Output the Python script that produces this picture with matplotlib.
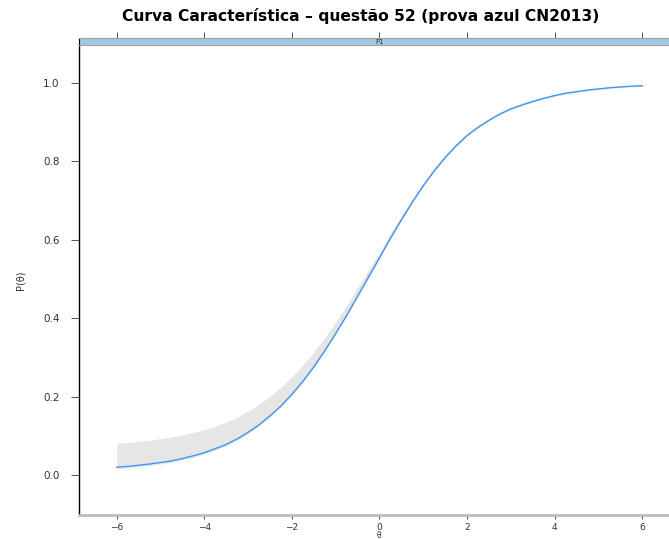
import matplotlib
matplotlib.use("Agg")
import matplotlib.pyplot as plt

# Data
theta = [-6, -5.75, -5.5, -5.25, -5, -4.75, -4.5, -4.25, -4, -3.75, -3.5, -3.25,
         -3, -2.75, -2.5, -2.25, -2, -1.75, -1.5, -1.25, -1, -0.75, -0.5, -0.25,
         0, 0.25, 0.5, 0.75, 1, 1.25, 1.5, 1.75, 2, 2.25, 2.5, 2.75, 3, 3.25,
         3.5, 3.75, 4, 4.25, 4.5, 4.75, 5, 5.25, 5.5, 5.75, 6]
prob = [0.020, 0.022, 0.025, 0.028, 0.032, 0.036, 0.042, 0.049, 0.057, 0.067,
        0.078, 0.092, 0.109, 0.128, 0.151, 0.176, 0.206, 0.239, 0.276, 0.317,
        0.361, 0.407, 0.456, 0.505, 0.554, 0.604, 0.651, 0.696, 0.738, 0.776,
        0.810, 0.840, 0.866, 0.887, 0.905, 0.921, 0.934, 0.944, 0.953, 0.961,
        0.968, 0.974, 0.978, 0.982, 0.985, 0.988, 0.990, 0.992, 0.993]
upper = [0.081, 0.083, 0.086, 0.089, 0.093, 0.097, 0.102, 0.109, 0.116, 0.125,
         0.135, 0.148, 0.163, 0.180, 0.201, 0.224, 0.251, 0.281, 0.314, 0.351,
         0.391, 0.433, 0.478, 0.524, 0.569, 0.617, 0.662, 0.706, 0.746, 0.783,
         0.816, 0.846, 0.871, 0.892, 0.909, 0.925, 0.938, 0.948, 0.956, 0.964,
         0.971, 0.977, 0.980, 0.984, 0.987, 0.990, 0.992, 0.994, 0.995]
lower = [0.016, 0.018, 0.021, 0.024, 0.028, 0.032, 0.038, 0.045, 0.053, 0.063,
         0.074, 0.088, 0.105, 0.125, 0.148, 0.173, 0.203, 0.236, 0.273, 0.314,
         0.358, 0.404, 0.453, 0.502, 0.551, 0.602, 0.649, 0.694, 0.736, 0.774,
         0.808, 0.838, 0.864, 0.885, 0.903, 0.919, 0.932, 0.942, 0.951, 0.959,
         0.966, 0.972, 0.976, 0.980, 0.983, 0.986, 0.988, 0.990, 0.991]
xticks = [-6, -4, -2, 0, 2, 4, 6]
yticks = [0.0, 0.2, 0.4, 0.6, 0.8, 1.0]
ytick_labels = ["0.0", "0.2", "0.4", "0.6", "0.8", "1.0"]
title = "Curva Característica – questão 52 (prova azul CN2013)"
strip_label = "P1"

W, H = 669, 539
fig = plt.figure(figsize=(W / 100, H / 100), dpi=100)

def fx(px):
    return px / W

def fy(py):
    return 1 - py / H

# main panel
left, right, top, bottom = 79, 680, 45, 515
ax = fig.add_axes([fx(left), fy(bottom), fx(right - left), (bottom - top) / H])
ax.fill_between(theta, lower, upper, color="#e6e6e6", linewidth=0)
ax.plot(theta, prob, color="#3d97f5", linewidth=1.0)
ax.set_xlim(-6.86, 6.86)
ax.set_ylim(-0.102, 1.097)
ax.set_xticks(xticks)
ax.set_xticklabels([("−" if v < 0 else "") + str(abs(v)) for v in xticks])
ax.set_yticks(yticks)
ax.set_yticklabels(ytick_labels)
ax.tick_params(axis="both", direction="out", colors="#333333", width=0.6)
ax.tick_params(axis="y", length=6, pad=8, labelsize=7.5)
ax.tick_params(axis="x", length=3, pad=3, labelsize=6.5)
ax.spines["top"].set_visible(False)
ax.spines["right"].set_visible(False)
ax.spines["left"].set_color("black")
ax.spines["left"].set_linewidth(1.0)
ax.spines["bottom"].set_color("#bdbdbd")
ax.spines["bottom"].set_linewidth(2.0)

# strip
s_top, s_bot = 38, 45
sax = fig.add_axes([fx(left), fy(s_bot), fx(right - left), (s_bot - s_top) / H])
sax.set_facecolor("#9ecae1")
sax.set_xlim(ax.get_xlim())
sax.set_ylim(0, 1)
sax.set_yticks([])
sax.set_xticks(xticks)
sax.xaxis.set_ticks_position("top")
sax.tick_params(axis="x", direction="out", length=4, width=0.6,
                colors="#333333", labeltop=False, labelbottom=False)
for name, sp in sax.spines.items():
    sp.set_color("#a0a0a0")
    sp.set_linewidth(0.8)
sax.spines["left"].set_color("black")
sax.text(0, 0.5, strip_label, ha="center", va="center", fontsize=5,
         color="#333333")

# labels
fig.text(fx(361), fy(16), title, ha="center", va="center", fontsize=11.2,
         fontweight="bold", color="black")
fig.text(fx(20), fy(280), "P(θ)", ha="center", va="center", rotation=90,
         fontsize=7, color="#333333")
fig.text(fx(379), fy(535.5), "θ", ha="center", va="center", fontsize=5.5,
         color="#333333")

fig.savefig("out.png", dpi=100, facecolor="white")
